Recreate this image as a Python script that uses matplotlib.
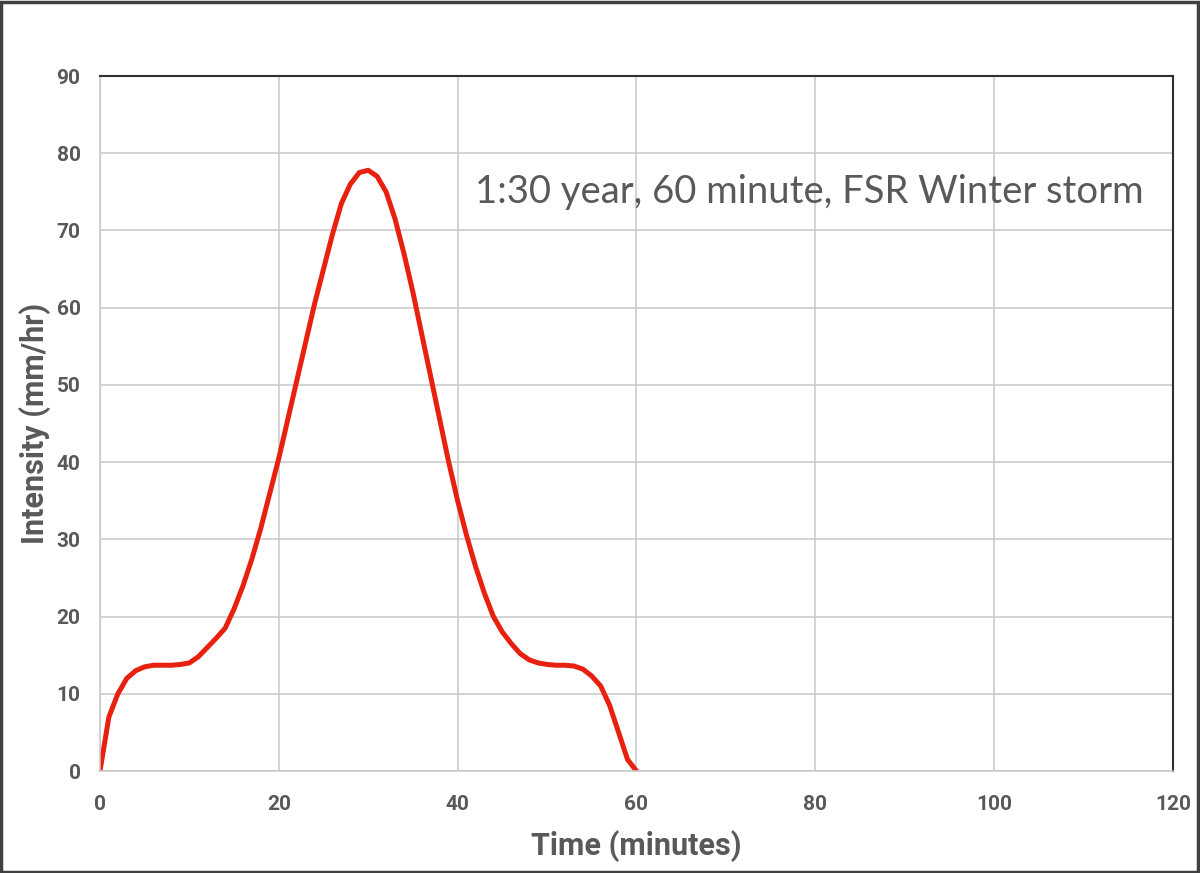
import numpy as np
import matplotlib.pyplot as plt
from matplotlib.patches import Rectangle

plt.rcParams['font.family'] = ['Roboto', 'DejaVu Sans']

# storm profile (minute, mm/hr)
time_min = list(range(0, 61))
intensity = [0, 7, 10, 12, 13, 13.5, 13.7, 13.7, 13.7, 13.8,
             14, 14.8, 16, 17.2, 18.5, 21, 24, 27.5, 31.5, 36,
             40.5, 45.5, 50.5, 55.5, 60.5, 65, 69.5, 73.5, 76, 77.5,
             77.8, 77, 75, 71.5, 67, 62, 56.5, 51, 45.5, 40,
             35, 30.5, 26.5, 23, 20, 18, 16.5, 15.2, 14.4, 14,
             13.8, 13.7, 13.7, 13.6, 13.2, 12.3, 11, 8.5, 5, 1.5, 0]

xticks = [0, 20, 40, 60, 80, 100, 120]
yticks = [0, 10, 20, 30, 40, 50, 60, 70, 80, 90]
note = "1:30 year, 60 minute, FSR Winter storm"

grey = '#595959'
gridc = '#c8c8c8'

fig = plt.figure(figsize=(12, 8.73), dpi=100)
ax = fig.add_axes([0.0833, 0.1168, 0.8942, 0.7961])

ax.plot(time_min, intensity, color='#e8200f', lw=3.6,
        solid_capstyle='round', solid_joinstyle='round')

ax.set_xlim(0, 120)
ax.set_ylim(0, 90)
ax.set_xticks(xticks)
ax.set_yticks(yticks)
ax.grid(True, color=gridc, lw=1.1)
ax.set_axisbelow(True)
ax.tick_params(length=0, labelsize=15, labelcolor=grey, pad=14)
for lab in ax.get_xticklabels() + ax.get_yticklabels():
    lab.set_fontweight('bold')
ax.tick_params(axis='x', pad=17)

for s in ['left', 'bottom']:
    ax.spines[s].set_color(gridc)
    ax.spines[s].set_linewidth(1.1)
for s in ['top', 'right']:
    ax.spines[s].set_color('#303030')
    ax.spines[s].set_linewidth(1.5)

ax.set_xlabel("Time (minutes)", fontsize=22, fontweight='bold', color=grey, labelpad=12)
ax.set_ylabel("Intensity (mm/hr)", fontsize=22, fontweight='bold', color=grey, labelpad=4)

ax.text(41.9, 75, note, fontsize=27.5, color=grey, va='center', ha='left',
        family=['Lato', 'DejaVu Sans'])

# outer frame
fig.patches.append(Rectangle((0.001, 0.001), 0.997, 0.997, transform=fig.transFigure,
                             fill=False, edgecolor='#404040', lw=2.5))

fig.savefig('out.png', dpi=100)
